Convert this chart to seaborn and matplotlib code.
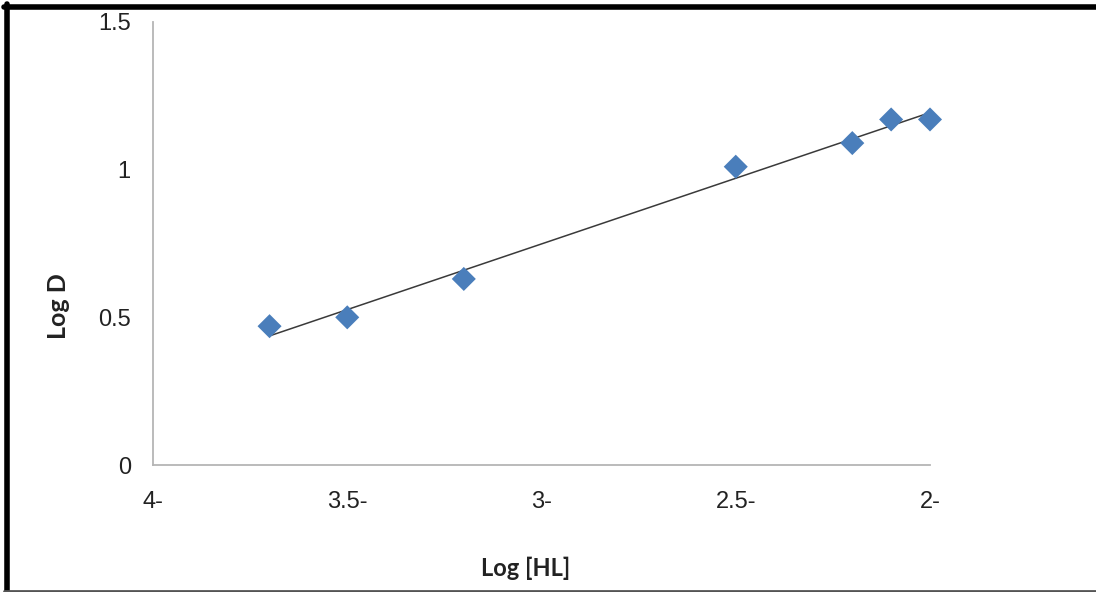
import numpy as np
import pandas as pd
import matplotlib
matplotlib.use('Agg')
import matplotlib.pyplot as plt
import seaborn as sns
from matplotlib.lines import Line2D

# Data
log_hl = [-3.7, -3.5, -3.2, -2.5, -2.2, -2.1, -2.0]
log_d = [0.47, 0.50, 0.63, 1.01, 1.09, 1.17, 1.17]
x_ticks = [-4, -3.5, -3, -2.5, -2]
x_tick_labels = ['4-', '3.5-', '3-', '2.5-', '2-']
y_ticks = [0, 0.5, 1, 1.5]
y_tick_labels = ['0', '0.5', '1', '1.5']

df = pd.DataFrame({'Log [HL]': log_hl, 'Log D': log_d})

sns.set_style('white')
plt.rcParams['font.family'] = ['Liberation Sans', 'DejaVu Sans']

fig = plt.figure(figsize=(10.96, 5.92), dpi=100)
ax = fig.add_axes([153 / 1096, 1 - 465 / 592, 777 / 1096, 443 / 592])

# Linear trend line (least squares fit over the data range)
slope, intercept = np.polyfit(df['Log [HL]'], df['Log D'], 1)
fit_x = np.array([min(log_hl), max(log_hl)])
ax.plot(fit_x, slope * fit_x + intercept, color='#3a3a3a', linewidth=1.1,
        zorder=2, clip_on=False)

sns.scatterplot(data=df, x='Log [HL]', y='Log D', marker='D', s=150,
                color='#4a7ebb', edgecolor='none', ax=ax, zorder=3, clip_on=False)

ax.set_xlim(-4, -2)
ax.set_ylim(0, 1.5)
ax.set_xticks(x_ticks)
ax.set_xticklabels(x_tick_labels)
ax.set_yticks(y_ticks)
ax.set_yticklabels(y_tick_labels)
ax.tick_params(axis='x', length=0, pad=19, labelsize=17, labelcolor='#222222')
ax.tick_params(axis='y', length=0, pad=16, labelsize=17, labelcolor='#222222')

for side in ['top', 'right']:
    ax.spines[side].set_visible(False)
for side in ['left', 'bottom']:
    ax.spines[side].set_color('#b5b5b5')
    ax.spines[side].set_linewidth(1.3)

ax.set_xlabel('Log [HL]', fontsize=17, fontweight='bold', family=['Lato', 'DejaVu Sans'],
              color='#222222')
ax.set_ylabel('Log D', fontsize=18, fontweight='bold', family=['Lato', 'DejaVu Sans'],
              color='#222222')
ax.xaxis.set_label_coords((526 - 153) / 777, (465 - 568) / 443)
ax.xaxis.label.set_va('center')
ax.yaxis.set_label_coords((58 - 153) / 777, (465 - 306) / 443)
ax.yaxis.label.set_va('center')

# Frame around the picture (top, left thick black, bottom thin gray)
fig.add_artist(Line2D([4 / 1096, 1], [1 - 6.5 / 592, 1 - 6.5 / 592],
                      transform=fig.transFigure, color='black', linewidth=4))
fig.add_artist(Line2D([6.5 / 1096, 6.5 / 1096], [0, 1 - 4 / 592],
                      transform=fig.transFigure, color='black', linewidth=4))
fig.add_artist(Line2D([4 / 1096, 1], [1.5 / 592, 1.5 / 592],
                      transform=fig.transFigure, color='#555555', linewidth=2))

plt.savefig('out.png', dpi=100)
